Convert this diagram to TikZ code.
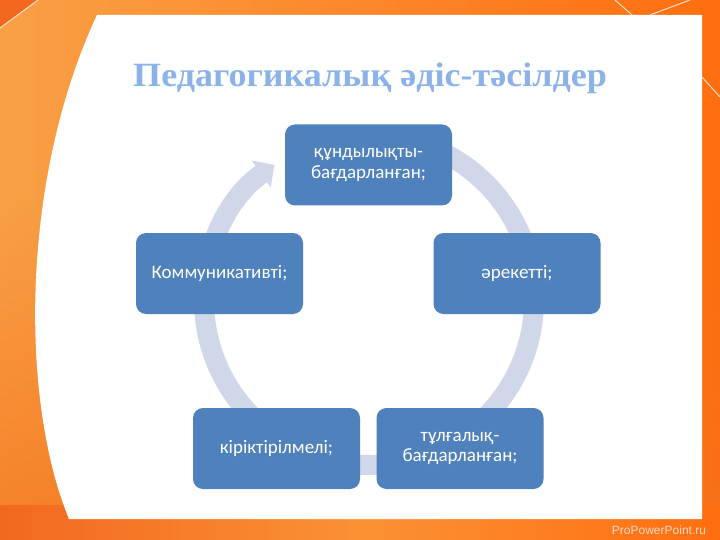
\documentclass[tikz,border=0pt]{standalone}
\usepackage{fontspec}
\setmainfont{Liberation Serif}
\newfontfamily\boxfont{Carlito}
\newfontfamily\wmfont{Liberation Sans}
\usetikzlibrary{arrows.meta,calc,fadings}
\definecolor{boxblue}{RGB}{79,129,189}
\definecolor{ringgray}{RGB}{207,215,232}
\definecolor{titleblue}{RGB}{140,179,233}
\definecolor{orA}{RGB}{249,160,70}
\definecolor{orB}{RGB}{255,110,15}
\definecolor{orC}{RGB}{242,104,30}
\definecolor{orD}{RGB}{243,115,28}
\tikzset{
  cyclebox/.style={fill=boxblue, rounded corners=10pt, minimum width=167pt,
    minimum height=81pt, text=white, align=center, inner sep=2pt,
    font=\boxfont\fontsize{19}{20.5}\selectfont},
  ring/.style={draw=ringgray, line width=20pt},
  bgline/.style={draw=white, line width=1pt, opacity=0.75}
}
\begin{document}
\begin{tikzpicture}[x=1pt,y=-1pt]
\useasboundingbox (0,0) rectangle (720,540);
% background
\shade[left color=orA, right color=orB] (0,0) rectangle (720,540);
\fill[orD, path fading=north, opacity=0.7] (0,200) rectangle (720,540);
\fill[orC] (0,0) -- (38,0) -- (0,28) -- cycle;
\shade[left color=orC, right color=orB, middle color=orA!70!orB] (0,505) rectangle (720,540);
\draw[bgline] (0,28) -- (38,0);
\draw[bgline] (615,0) -- (640,22);
\draw[bgline] (650,15) -- (690,0);
\draw[bgline] (702,77) -- (720,97);
% white panel
\fill[white] (97,15) -- (702,15) -- (702,519) -- (69,519)
  .. controls (20,400) and (20,180) .. (97,15) -- cycle;
% title
\node[anchor=base, text=titleblue, font=\bfseries\fontsize{34}{38}\selectfont]
  (title) at (370,87) {\scalebox{1.06}[1]{Педагогикалық әдіс-тәсілдер}};
% ring
\coordinate (c) at (369,300);
\draw[ring, -{Triangle[width=32pt,length=16pt]}] ($(c)+(-100:165)$)
  arc[start angle=-100, end angle=235, radius=165];
% boxes
\node[cyclebox] (top) at (368.5,165) {құндылықты-\\бағдарланған;};
\node[cyclebox] (right) at (517,273.5) {әрекетті;};
\node[cyclebox] (br) at (460,448.5) {тұлғалық-\\бағдарланған;};
\node[cyclebox] (bl) at (276.5,448.5) {кіріктірілмелі;};
\node[cyclebox] (left) at (219.5,273.5) {Коммуникативті;};
% watermark
\node[text=white!75!orC, font=\wmfont\fontsize{12}{14}\selectfont]
  (wm) at (659,530) {ProPowerPoint.ru};
\end{tikzpicture}
\end{document}
